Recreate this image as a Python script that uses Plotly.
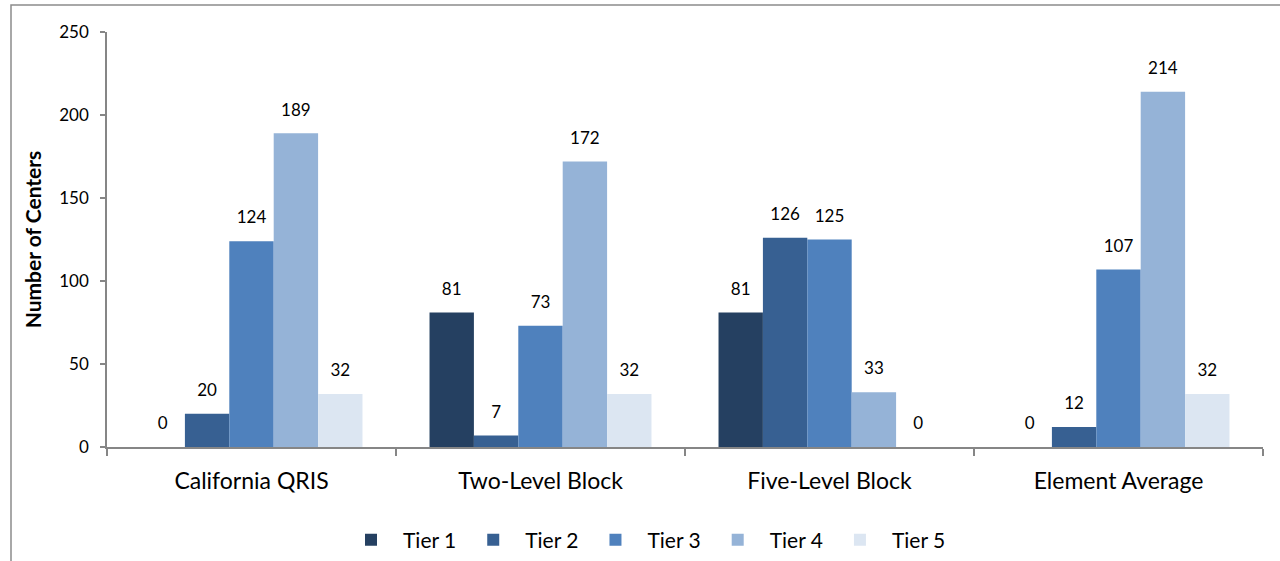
import plotly.graph_objects as go

categories = ["California QRIS", "Two-Level Block", "Five-Level Block", "Element Average"]
tiers = ["Tier 1", "Tier 2", "Tier 3", "Tier 4", "Tier 5"]
tier1 = [0, 81, 81, 0]
tier2 = [20, 7, 126, 12]
tier3 = [124, 73, 125, 107]
tier4 = [189, 172, 33, 214]
tier5 = [32, 32, 0, 32]
series = [tier1, tier2, tier3, tier4, tier5]
colors = ["#254061", "#376092", "#4F81BD", "#95B3D7", "#DCE6F2"]

FONT = "Lato, 'Open Sans', sans-serif"
AXIS_GREY = "#868686"

W, H = 1280, 561
L, R, T, B = 107, 17, 32, 114
pw, ph = W - L - R, H - T - B

fig = go.Figure()
for name, vals, col in zip(tiers, series, colors):
    fig.add_trace(go.Bar(
        name=name, x=categories, y=vals, marker=dict(color=col, line=dict(width=0)),
        offsetgroup=name, alignmentgroup="a",
    ))
# value labels sit above each bar, aligned with the bar groups;
# an invisible marker pushes the text a little clear of the bar top
for name, vals in zip(tiers, series):
    fig.add_trace(go.Scatter(
        x=categories, y=vals, mode="markers+text", text=[str(v) for v in vals],
        marker=dict(size=20, opacity=0),
        textposition="top center", textfont=dict(family=FONT, size=17, color="#000"),
        offsetgroup=name, alignmentgroup="a", showlegend=False, hoverinfo="skip",
        cliponaxis=False,
    ))

fig.update_layout(
    width=W, height=H,
    margin=dict(l=L, r=R, t=T, b=B, autoexpand=False),
    barmode="group", scattermode="group", bargap=0.232, bargroupgap=0,
    plot_bgcolor="white", paper_bgcolor="white",
    font=dict(family=FONT, color="#000"),
    legend=dict(
        orientation="h", x=(645 - L) / pw, xanchor="center",
        y=(T + ph - 540) / ph, yanchor="middle",
        font=dict(size=21), traceorder="normal", itemwidth=54,
    ),
    xaxis=dict(
        showline=True, linecolor=AXIS_GREY, linewidth=1.5,
        ticks="outside", tickson="boundaries", ticklen=7, tickcolor=AXIS_GREY, tickwidth=1.5,
        tickfont=dict(size=23), ticklabelstandoff=13,
    ),
    yaxis=dict(
        range=[0, 250], dtick=50, showgrid=False, zeroline=False,
        showline=True, linecolor=AXIS_GREY, linewidth=1.5,
        ticks="outside", ticklen=5, tickcolor=AXIS_GREY, tickwidth=1.5,
        tickfont=dict(size=17), ticklabelstandoff=8,
        title=dict(text="<b>Number of Centers</b>", font=dict(size=21), standoff=12),
    ),
    shapes=[dict(
        type="rect", xref="paper", yref="paper",
        x0=(11 - L) / pw, x1=1.2, y0=-0.5, y1=(T + ph - 5) / ph,
        line=dict(color="#8C8C8C", width=1.5), fillcolor="rgba(0,0,0,0)", layer="below",
    )],
)

fig.write_html("out.html")
